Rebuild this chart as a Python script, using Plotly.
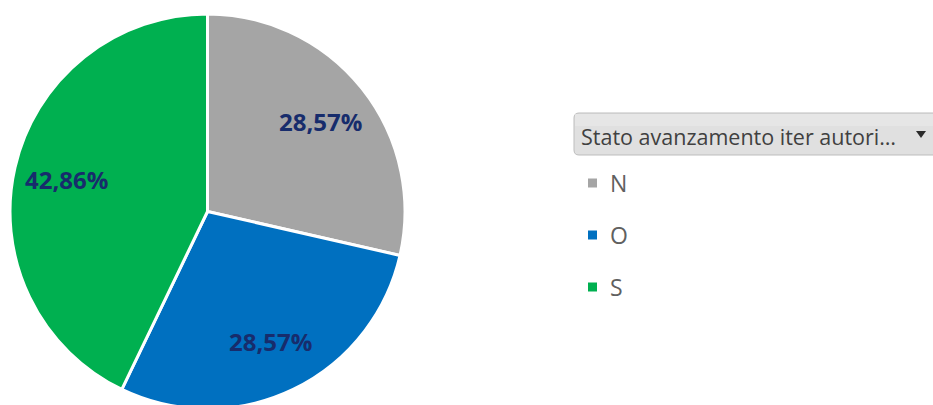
import math
import plotly.graph_objects as go

# Data
categories = ["N", "O", "S"]
values = [2, 2, 3]
slice_colors = ["#A5A5A5", "#0070C0", "#00B050"]
legend_title = "Stato avanzamento iter autori…"

W, H = 933, 412  # page is 405 tall; pie is clipped slightly at the bottom

def px(x):
    return x / W

def py(y):
    return 1 - y / H

# pie geometry (pixels)
CX, CY, R = 207.5, 211.5, 197.5

fig = go.Figure()
fig.add_trace(go.Pie(
    labels=categories,
    values=values,
    sort=False,
    direction="clockwise",
    rotation=0,
    marker=dict(colors=slice_colors, line=dict(color="white", width=3)),
    textinfo="none",
    domain=dict(x=[px(CX - R), px(CX + R)], y=[py(CY + R), py(CY - R)]),
    showlegend=False,
    hoverinfo="label+percent",
))

shapes = []
annotations = []

# Data labels placed at the middle angle of each slice
total = sum(values)
cum = 0
for v in values:
    mid = (cum + v / 2) / total * 2 * math.pi
    cum += v
    lx = CX + 0.73 * R * math.sin(mid)
    ly = CY - 0.73 * R * math.cos(mid)
    annotations.append(dict(
        x=px(lx), y=py(ly), xref="paper", yref="paper",
        xanchor="center", yanchor="middle", showarrow=False,
        text=f"{v / total * 100:.2f}%".replace(".", ","),
        font=dict(family="Open Sans", size=24, color="#172C6C", weight="bold"),
    ))

# Header box (dropdown-like)
shapes.append(dict(
    type="path", xref="paper", yref="paper",
    path=(f"M {px(579)},{py(113)} L {px(945)},{py(113)} L {px(945)},{py(155)} "
          f"L {px(579)},{py(155)} Q {px(574)},{py(155)} {px(574)},{py(150)} "
          f"L {px(574)},{py(118)} Q {px(574)},{py(113)} {px(579)},{py(113)} Z"),
    fillcolor="#E0E0E0", line=dict(color="#BDBDBD", width=1),
))
shapes.append(dict(
    type="rect", xref="paper", yref="paper",
    x0=px(575), x1=px(945), y0=py(114), y1=py(126),
    fillcolor="#E9E9E9", line=dict(width=0), layer="above",
    opacity=0.6,
))
annotations.append(dict(
    x=px(579), y=py(136), xref="paper", yref="paper", xanchor="left", yanchor="middle",
    text=legend_title, showarrow=False,
    font=dict(family="Open Sans", size=21.5, color="#404040"),
))
shapes.append(dict(
    type="path", xref="paper", yref="paper",
    path=f"M {px(916)},{py(131)} L {px(926)},{py(131)} L {px(921)},{py(138)} Z",
    fillcolor="#2B2B2B", line=dict(width=0),
))

# Legend items
for i, (lab, col) in enumerate(zip(categories, slice_colors)):
    cy = 183 + i * 52
    shapes.append(dict(
        type="rect", xref="paper", yref="paper",
        x0=px(588), x1=px(597), y0=py(cy - 4.5), y1=py(cy + 4.5),
        fillcolor=col, line=dict(width=0),
    ))
    annotations.append(dict(
        x=px(608), y=py(cy), xref="paper", yref="paper", xanchor="left", yanchor="middle",
        text=lab, showarrow=False,
        font=dict(family="Open Sans", size=23, color="#606060"),
    ))

fig.update_layout(
    width=W, height=H,
    margin=dict(l=0, r=0, t=0, b=0),
    paper_bgcolor="white", plot_bgcolor="white",
    shapes=shapes, annotations=annotations,
)

fig.write_html(
    "out.html",
    config={"displayModeBar": False},
    post_script="document.body.style.margin='0';document.body.style.overflow='hidden';",
)
